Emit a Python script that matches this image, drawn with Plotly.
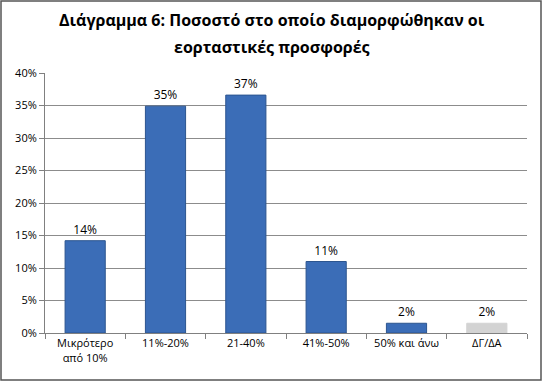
import plotly.graph_objects as go

categories = ["Μικρότερο<br>από 10%", "11%-20%", "21-40%", "41%-50%", "50% και άνω", "ΔΓ/ΔΑ"]
values = [14.2, 34.9, 36.6, 11.0, 1.5, 1.5]
labels = ["14%", "35%", "37%", "11%", "2%", "2%"]
colors = ["#3B6DB7", "#3B6DB7", "#3B6DB7", "#3B6DB7", "#3B6DB7", "#D3D3D3"]
line_colors = ["#2C558F", "#2C558F", "#2C558F", "#2C558F", "#2C558F", "#D3D3D3"]
y_ticks = [0, 5, 10, 15, 20, 25, 30, 35, 40]
y_ticktext = [f"{t}%" for t in y_ticks]
title_lines = ["<b>Διάγραμμα 6: Ποσοστό στο οποίο διαμορφώθηκαν οι</b>", "<b>εορταστικές προσφορές</b>"]

W, H = 543, 381
ml, mr, mt, mb = 45, 16, 73, 48
pw, ph = W - ml - mr, H - mt - mb

fig = go.Figure(go.Bar(
    x=categories, y=values, text=labels, textposition="outside",
    textfont=dict(size=12, color="#000000"),
    marker=dict(color=colors, line=dict(color=line_colors, width=1)),
    cliponaxis=False,
))

title_y_px = [20, 47]
annotations = [dict(text=t, xref="paper", yref="paper", x=(W / 2 - ml) / pw,
                    y=(H - mb - yp) / ph, xanchor="center", yanchor="middle",
                    showarrow=False, font=dict(size=16, family="Open Sans, sans-serif", color="#000000"))
               for t, yp in zip(title_lines, title_y_px)]

fig.update_layout(
    width=W, height=H,
    margin=dict(l=ml, r=mr, t=mt, b=mb),
    paper_bgcolor="white", plot_bgcolor="white",
    font=dict(family="Open Sans, sans-serif", size=11, color="#000000"),
    bargap=0.5,
    showlegend=False,
    annotations=annotations,
    xaxis=dict(showline=True, linecolor="#808080", linewidth=1, ticks="outside",
               tickson="boundaries", ticklen=5, tickcolor="#808080",
               tickfont=dict(size=11), showgrid=False),
    yaxis=dict(range=[0, 40], tickvals=y_ticks, ticktext=y_ticktext,
               showline=True, linecolor="#808080", linewidth=1, ticks="outside",
               ticklen=5, tickcolor="#808080", showgrid=True, gridcolor="#8C8C8C",
               gridwidth=1, zeroline=False, tickfont=dict(size=11)),
    shapes=[dict(type="rect", xref="paper", yref="paper",
                 x0=(1 - ml) / pw, x1=(W - 2 - ml) / pw,
                 y0=-(mb - 1) / ph, y1=(ph + mt - 1) / ph,
                 line=dict(color="#555555", width=1.5), layer="above")],
)

fig.write_html("out.html", config={"displayModeBar": False},
               post_script="document.body.style.margin='0';document.body.style.overflow='hidden';")
